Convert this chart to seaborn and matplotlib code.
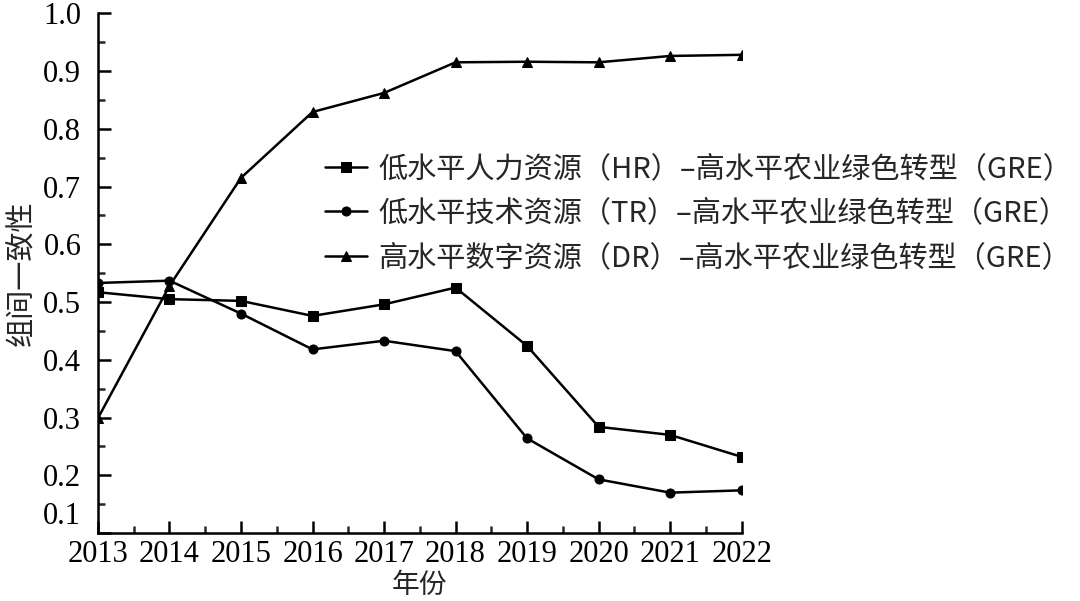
import numpy as np
import pandas as pd
import seaborn as sns
import matplotlib.pyplot as plt
from matplotlib.ticker import MultipleLocator
from matplotlib.transforms import ScaledTranslation

years = [2013, 2014, 2015, 2016, 2017, 2018, 2019, 2020, 2021, 2022]
hr_vals = [0.517, 0.505, 0.502, 0.476, 0.496, 0.525, 0.424, 0.284, 0.270, 0.232]
tr_vals = [0.533, 0.537, 0.480, 0.418, 0.433, 0.415, 0.264, 0.193, 0.170, 0.174]
dr_vals = [0.299, 0.528, 0.715, 0.829, 0.862, 0.915, 0.916, 0.915, 0.926, 0.928]
series_names = [
    "低水平人力资源（HR）–高水平农业绿色转型（GRE）",
    "低水平技术资源（TR）–高水平农业绿色转型（GRE）",
    "高水平数字资源（DR）–高水平农业绿色转型（GRE）",
]
y_ticks = [0.1, 0.2, 0.3, 0.4, 0.5, 0.6, 0.7, 0.8, 0.9, 1.0]

sns.set_style("ticks")
plt.rcParams['font.family'] = ['Liberation Serif', 'Noto Sans CJK SC']

df = pd.DataFrame({
    "year": years * 3,
    "value": hr_vals + tr_vals + dr_vals,
    "series": [series_names[0]] * 10 + [series_names[1]] * 10 + [series_names[2]] * 10,
})

fig = plt.figure(figsize=(10.8, 6.01), dpi=100)
ax = fig.add_axes([0.0907, 0.113, 0.596, 0.865])

sns.lineplot(
    data=df, x="year", y="value", hue="series", style="series",
    palette=["black"] * 3,
    markers={series_names[0]: "s", series_names[1]: "o", series_names[2]: "^"},
    dashes=False, markersize=6.5, linewidth=1.8, markeredgecolor="black",
    ax=ax, legend=True,
)

ax.set_xlim(2013, 2022)
ax.set_ylim(0.1, 1.0)
ax.set_xticks(years)
ax.xaxis.set_minor_locator(MultipleLocator(0.5))
ax.set_yticks(y_ticks)
ax.set_yticklabels([f"{v:.1f}" for v in y_ticks])
ax.yaxis.set_minor_locator(MultipleLocator(0.05))
ax.tick_params(axis="both", which="major", direction="in", length=9, width=1.8,
               labelsize=22, colors="black")
ax.tick_params(axis="both", which="minor", direction="in", length=5, width=1.8)
ax.tick_params(axis="x", pad=5)
ax.tick_params(axis="y", pad=12)
sns.despine(ax=ax)
for side in ["left", "bottom"]:
    ax.spines[side].set_linewidth(1.8)
    ax.spines[side].set_color("black")

# lift the 0.1 label clear of the year labels
lbl = ax.get_yticklabels()[0]
lbl.set_transform(lbl.get_transform() + ScaledTranslation(0, 20 / 100, fig.dpi_scale_trans))

ax.set_xlabel("年份", fontsize=20, family=["Noto Sans CJK SC"], labelpad=1)
ax.set_ylabel("组间一致性", fontsize=21, family=["Noto Sans CJK SC"], labelpad=4)

handles, labels = ax.get_legend_handles_labels()
ax.legend(handles, labels, loc="upper left", bbox_to_anchor=(0.334, 0.752),
          frameon=False, prop={"family": ["Noto Sans CJK SC"], "size": 21},
          handlelength=1.45, handletextpad=0.4, labelspacing=0.5,
          borderaxespad=0)

fig.savefig("out.png", dpi=100)
